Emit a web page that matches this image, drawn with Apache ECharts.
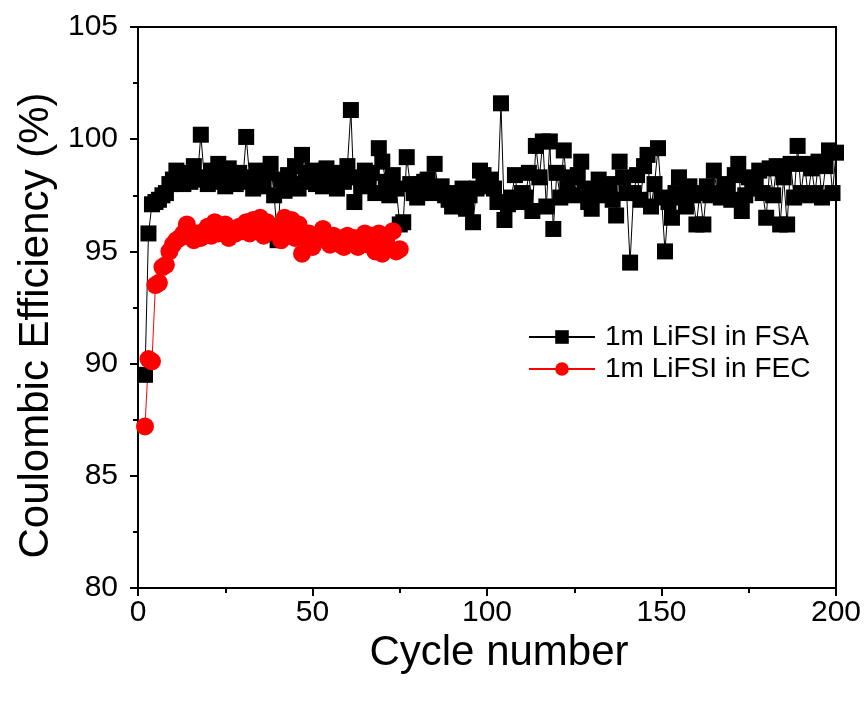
<!DOCTYPE html>
<html>
<head>
<meta charset="utf-8">
<script src="https://cdn.jsdelivr.net/npm/echarts@6/dist/echarts.min.js"></script>
<style>html,body{margin:0;padding:0;background:#fff}#c{width:866px;height:702px}</style>
</head>
<body>
<div id="c"></div>
<script>
const seriesNames = ["1m LiFSI in FSA", "1m LiFSI in FEC"];
const xTicks = [0, 50, 100, 150, 200];
const yTicks = [80, 85, 90, 95, 100, 105];
const firstCycle = 2;
const fsaValues = [
  89.5, 95.8, 97.1, 97.2, 97.3, 97.5, 97.6, 98.0, 98.2,
  98.6, 98.3, 98.0, 98.5, 98.1, 98.8, 98.2, 100.2, 98.3, 98.0,
  98.6, 98.1, 98.9, 98.3, 97.9, 98.7, 98.2, 98.0, 98.5, 98.1,
  100.1, 98.3, 97.8, 98.6, 98.2, 97.9, 98.5, 98.9, 97.5, 95.5,
  98.2, 97.7, 98.4, 98.0, 98.8, 97.8, 99.3, 98.5, 98.1, 98.6,
  98.0, 98.3, 97.9, 98.7, 98.2, 98.5, 97.8, 98.4, 98.1, 98.8,
  101.3, 97.2, 98.3, 97.9, 98.6, 98.0, 98.5, 97.6, 99.6, 99.0,
  98.1, 97.5, 98.4, 97.8, 96.2, 96.3, 99.2, 98.0, 97.6, 97.4,
  98.0, 98.1, 98.2, 97.6, 98.9, 97.8, 97.9, 97.5, 97.3, 97.0,
  97.6, 97.2, 97.8, 96.9, 97.5, 96.3, 97.8, 98.6, 98.4, 97.9,
  98.2, 97.8, 97.2, 101.6, 96.4, 97.1, 97.4, 98.4, 97.2, 97.6,
  97.4, 98.5, 96.8, 99.7, 98.3, 99.9, 97.0, 99.9, 96.0, 98.5,
  97.4, 99.5, 97.8, 98.3, 97.5, 98.4, 99.0, 97.8, 97.2, 96.9,
  97.6, 98.2, 97.5, 97.9, 98.0, 97.3, 96.6, 99.0, 98.3, 97.6,
  94.5, 97.6, 98.4, 97.3, 98.8, 99.3, 97.0, 98.0, 99.6, 97.4,
  95.0, 97.2, 96.5, 97.6, 98.3, 97.4, 97.0, 97.9, 97.5, 96.2,
  97.6, 96.2, 97.9, 97.5, 98.6, 97.6, 97.4, 98.0, 97.7, 97.3,
  98.4, 98.9, 96.8, 97.5, 98.3, 97.8, 98.0, 98.6, 97.6, 96.5,
  98.7, 97.5, 98.8, 96.2, 98.3, 96.2, 98.9, 97.4, 99.7, 97.6,
  98.9, 97.5, 98.7, 97.6, 99.0, 97.4, 98.8, 99.5, 97.6, 99.4
];
const fecValues = [
  87.2, 90.2, 90.1, 93.5, 93.6, 94.3, 94.4, 95.0, 95.3,
  95.5, 95.6, 95.8, 96.2, 95.7, 95.5, 95.8, 95.6, 95.9, 96.1,
  95.7, 96.3, 95.8, 96.1, 96.2, 95.6, 96.0, 95.8, 96.1, 95.9,
  96.3, 95.8, 96.4, 96.0, 96.5, 95.7, 96.3, 96.1, 95.9, 96.0,
  95.5, 96.5, 96.1, 96.4, 95.6, 96.2, 94.9, 95.6, 95.8, 95.2,
  95.5, 95.7, 96.0, 95.5, 95.3, 95.7, 95.5, 95.3, 95.2, 95.7,
  95.4, 95.6, 95.2, 95.6, 95.8, 95.3, 95.7, 95.0, 95.8, 94.9,
  95.5, 95.1, 95.9, 95.0, 95.1
];
const fsaData = fsaValues.map((v, i) => [i + firstCycle, v]);
const fecData = fecValues.map((v, i) => [i + firstCycle, v]);

const chart = echarts.init(document.getElementById('c'), null, {renderer: 'canvas'});
const font = '"Liberation Sans", Arial, sans-serif';
chart.setOption({
  animation: false,
  backgroundColor: '#fff',
  grid: {left: 138, top: 27, right: 30, bottom: 114, show: true, borderColor: '#000', borderWidth: 2, backgroundColor: 'transparent'},
  legend: {
    data: seriesNames,
    orient: 'vertical',
    left: 523, top: 318,
    itemWidth: 66, itemHeight: 17, itemGap: 4,
    textStyle: {fontFamily: font, fontSize: 28, color: '#000', padding: [0, 0, 0, 5]}
  },
  xAxis: {
    type: 'value', min: xTicks[0], max: xTicks[xTicks.length - 1], interval: 50,
    name: 'Cycle number', nameLocation: 'middle', nameGap: 43,
    nameTextStyle: {fontFamily: font, fontSize: 42, color: '#000', padding: [0, 0, 0, 24]},
    axisLine: {onZero: false, lineStyle: {color: '#000', width: 2}},
    axisTick: {inside: false, length: 8, lineStyle: {width: 2, color: '#000'}},
    minorTick: {show: true, splitNumber: 2, length: 5, lineStyle: {width: 2, color: '#000'}},
    axisLabel: {fontFamily: font, fontSize: 30, color: '#000', margin: 10},
    splitLine: {show: false}
  },
  yAxis: {
    type: 'value', min: yTicks[0], max: yTicks[yTicks.length - 1], interval: 5,
    name: 'Coulombic Efficiency (%)', nameLocation: 'middle', nameGap: 80,
    nameTextStyle: {fontFamily: font, fontSize: 42, color: '#000', padding: [0, 36, 0, 0]},
    axisLine: {lineStyle: {color: '#000', width: 2}},
    axisTick: {inside: false, length: 8, lineStyle: {width: 2, color: '#000'}},
    minorTick: {show: true, splitNumber: 2, length: 5, lineStyle: {width: 2, color: '#000'}},
    axisLabel: {fontFamily: font, fontSize: 30, color: '#000', margin: 20},
    splitLine: {show: false}
  },
  series: [
    {
      name: seriesNames[0], type: 'line', data: fsaData,
      symbol: 'rect', symbolSize: 16,
      itemStyle: {color: '#000'},
      lineStyle: {color: '#000', width: 1}
    },
    {
      name: seriesNames[1], type: 'line', data: fecData,
      symbol: 'circle', symbolSize: 18,
      itemStyle: {color: '#ff0000'},
      lineStyle: {color: '#ff0000', width: 1}
    }
  ]
});
</script>
</body>
</html>
